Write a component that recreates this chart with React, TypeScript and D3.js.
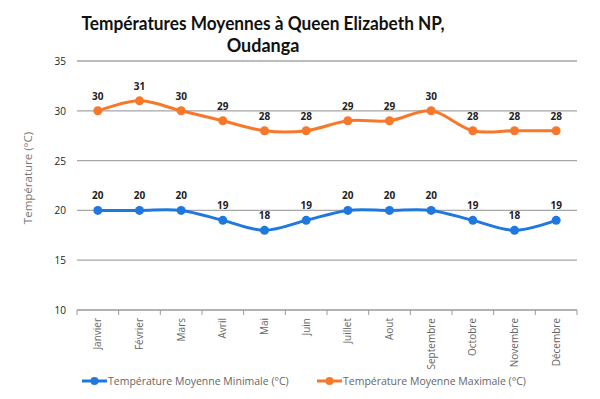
import React from "react";
import * as d3 from "d3";

const months = ["Janvier", "Février", "Mars", "Avril", "Mai", "Juin", "Juillet", "Aout", "Septembre", "Octobre", "Novembre", "Décembre"];
const minTemps = [20, 20, 20, 19, 18, 19, 20, 20, 20, 19, 18, 19];
const maxTemps = [30, 31, 30, 29, 28, 28, 29, 29, 30, 28, 28, 28];
const yTicks = [10, 15, 20, 25, 30, 35];
const seriesNames = ["Température Moyenne Minimale (°C)", "Température Moyenne Maximale (°C)"];
const colors = ["#1f78e0", "#f7782a"];

export default function App() {
  const W = 600, H = 399;
  const left = 77, right = 577, top = 61, bottom = 310;
  const x = d3.scaleBand<string>().domain(months).range([left, right]);
  const y = d3.scaleLinear().domain([10, 35]).range([bottom, top]);
  const cx = (m: string) => (x(m) as number) + x.bandwidth() / 2;
  const line = d3.line<number>().x((_, i) => cx(months[i])).y(d => y(d)).curve(d3.curveCatmullRom.alpha(0.5));
  const series = [minTemps, maxTemps];
  const font = "'Open Sans', sans-serif";
  const edges = months.map(m => x(m) as number).concat([right]);
  return (
    <svg width={W} height={H} style={{ position: "absolute", left: 0, top: 0, background: "#fff" }} fontFamily={font}>
      <g fontFamily="Lato, sans-serif" fontSize={18} fontWeight="bold" fill="#111" textAnchor="middle">
        <text x={263} y={30} textLength={363} lengthAdjust="spacingAndGlyphs">Températures Moyennes à Queen Elizabeth NP,</text>
        <text x={263} y={52}>Oudanga</text>
      </g>
      {yTicks.map(t => (
        <g key={t}>
          {t !== 10 && <line x1={left} x2={right} y1={y(t)} y2={y(t)} stroke="#a6a6a6" strokeWidth={1.3} />}
          <text x={66} y={y(t) + 4} textAnchor="end" fontSize={10} fill="#222">{t}</text>
        </g>
      ))}
      <line x1={left} x2={right} y1={bottom} y2={bottom} stroke="#9a9a9a" strokeWidth={1.3} />
      {edges.map((e, i) => (
        <line key={i} x1={e} x2={e} y1={bottom} y2={bottom + 5} stroke="#9a9a9a" strokeWidth={1} />
      ))}
      {months.map(m => (
        <text key={m} transform={`translate(${cx(m) + 3.5},${bottom + 8}) rotate(-90)`} textAnchor="end" fontSize={10} fill="#666">{m}</text>
      ))}
      <text transform={`translate(32,178) rotate(-90)`} textAnchor="middle" fontSize={11.5} fill="#777">Température (°C)</text>
      {series.map((s, si) => (
        <g key={si}>
          <path d={line(s) || ""} fill="none" stroke={colors[si]} strokeWidth={3} />
          {s.map((v, i) => (
            <g key={i}>
              <circle cx={cx(months[i])} cy={y(v)} r={4.5} fill={colors[si]} />
              <text x={cx(months[i])} y={y(v) - 11} textAnchor="middle" fontSize={10} fontWeight="bold" fill="#222">{v}</text>
            </g>
          ))}
        </g>
      ))}
      {seriesNames.map((n, i) => {
        const lx = i === 0 ? 82 : 317;
        return (
          <g key={n}>
            <line x1={lx} x2={lx + 25} y1={381} y2={381} stroke={colors[i]} strokeWidth={3} />
            <circle cx={lx + 12.5} cy={381} r={4} fill={colors[i]} />
            <text x={lx + 26} y={385} fontSize={10.5} fill="#666">{n}</text>
          </g>
        );
      })}
    </svg>
  );
}
